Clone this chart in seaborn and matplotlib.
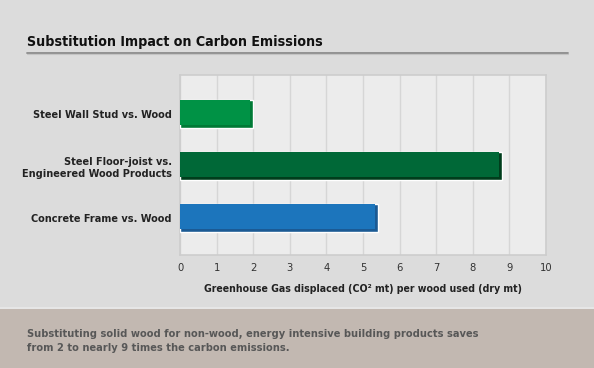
import matplotlib
matplotlib.use("Agg")
import matplotlib.pyplot as plt
import seaborn as sns
import numpy as np
from matplotlib.patches import Rectangle

# data
categories = ["Steel Wall Stud vs. Wood",
              "Steel Floor-joist vs.\nEngineered Wood Products",
              "Concrete Frame vs. Wood"]
values = [2.0, 8.8, 5.4]
bar_colors = ["#009245", "#006837", "#1c75bc"]
shadow_colors = ["#007a36", "#003d1c", "#1b5a94"]
x_ticks = list(range(0, 11))

sns.set_theme(style="white")
plt.rcParams['font.family'] = ['DejaVu Sans']
plt.rcParams['font.stretch'] = 'condensed'

fig = plt.figure(figsize=(5.94, 3.68), dpi=100)
fig.patch.set_facecolor("#dcdcdc")

# bottom band
fig.patches.append(Rectangle((0, 0), 1, 59 / 368, transform=fig.transFigure,
                             facecolor="#c2b8b1", edgecolor="none", zorder=0))
fig.patches.append(Rectangle((0, 59 / 368), 1, 2 / 368, transform=fig.transFigure,
                             facecolor="#e6e6e6", edgecolor="none", zorder=0))

ax = fig.add_axes([180 / 594, 113 / 368, 366 / 594, 180 / 368])
ax.set_facecolor("#ececec")

# shadow (full size) then face bar on top
sns.barplot(x=values, y=categories, hue=categories, palette=shadow_colors,
            width=0.55, legend=False, ax=ax, saturation=1, zorder=3)
ypos = np.arange(len(values))
ax.barh(ypos - 0.03, np.array(values) - 0.08, height=0.49,
        color=bar_colors, zorder=4, edgecolor="none")

ax.set_xlim(0, 10)
ax.set_ylim(2.71, -0.75)
ax.set_xticks(x_ticks)
ax.xaxis.grid(True, color="#d6d6d6", linewidth=1)
ax.set_axisbelow(True)
for s in ax.spines.values():
    s.set_color("#cdcdcd")
    s.set_linewidth(1.2)

ax.tick_params(axis="x", length=0, pad=6, labelsize=8, labelcolor="#333333")
ax.tick_params(axis="y", length=0, pad=6)
for lbl in ax.get_yticklabels():
    lbl.set_fontweight("bold")
    lbl.set_fontsize(7.8)
    lbl.set_color("#222222")
    lbl.set_horizontalalignment("right")
    lbl.set_multialignment("right")
ax.set_ylabel("")
ax.set_xlabel("Greenhouse Gas displaced (CO² mt) per wood used (dry mt)",
              fontsize=7.6, fontweight="bold", color="#222222", labelpad=8)

# title with underline
fig.text(27 / 594, 1 - 42 / 368, "Substitution Impact on Carbon Emissions",
         fontsize=10.2, fontweight="bold", color="#111111", va="center", ha="left")
fig.add_artist(plt.Line2D([27 / 594, 568 / 594], [1 - 52.5 / 368, 1 - 52.5 / 368],
                          color="#8c8c8c", linewidth=1.3))
fig.add_artist(plt.Line2D([27 / 594, 568 / 594], [1 - 54 / 368, 1 - 54 / 368],
                          color="#c4c4c4", linewidth=0.8))

fig.text(27 / 594, 1 - 341 / 368,
         "Substituting solid wood for non-wood, energy intensive building products saves\n"
         "from 2 to nearly 9 times the carbon emissions.",
         fontsize=7.9, fontweight="bold", color="#575757", va="center", ha="left",
         linespacing=1.45)

fig.savefig("out.png", dpi=100, facecolor=fig.get_facecolor())
